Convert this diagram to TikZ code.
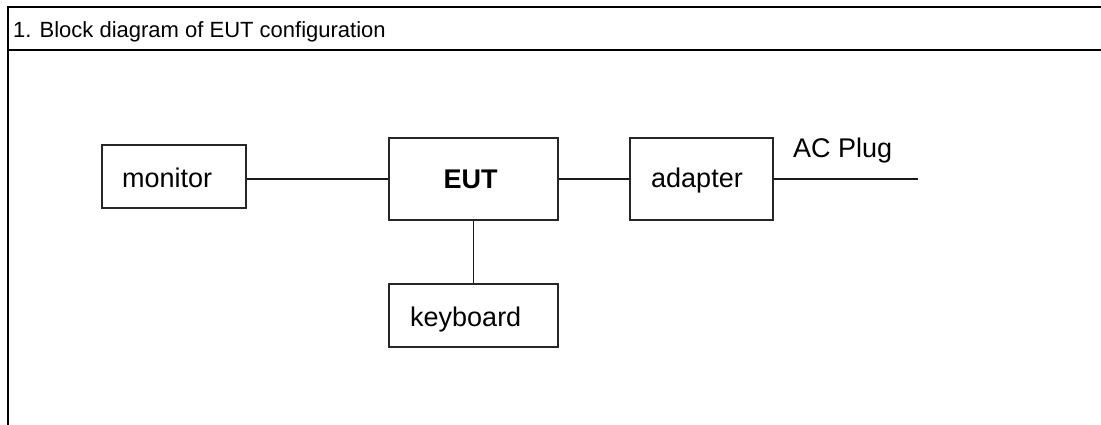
\documentclass[tikz,border=0pt]{standalone}
\usepackage{fontspec}
\setmainfont{Liberation Sans}
\begin{document}
\begin{tikzpicture}[x=1pt,y=-1pt,
  box/.style={draw=black!85, line width=1.4pt, rectangle, inner sep=0pt},
  lbl/.style={inner sep=0pt, font=\fontsize{27}{30}\selectfont},
  wire/.style={draw=black!90, line width=1.4pt},
  frameline/.style={draw=black, line width=2.4pt}]
\useasboundingbox (0,0) rectangle (1101,424);
% frame
\draw[frameline] (1101,7) -- (8,7) -- (8,430);
\draw[frameline] (8,50) -- (1101,50);
\node[inner sep=0pt, anchor=base west, font=\fontsize{22}{26}\selectfont] (hdr) at (13,37) {1. Block diagram of EUT configuration};
% boxes
\node[box, minimum width=144pt, minimum height=63pt] (monitor) at (174,176.5) {};
\node[box, minimum width=169pt, minimum height=82pt] (eut) at (473.5,179) {};
\node[box, minimum width=143pt, minimum height=82pt] (adapter) at (701.5,179) {};
\node[box, minimum width=169pt, minimum height=63pt] (keyboard) at (473.5,315.5) {};
% labels
\node[lbl, anchor=base west] (tmon) at (122,187) {monitor};
\node[lbl, anchor=base, font=\fontsize{27}{30}\selectfont\bfseries] (teut) at (470.5,188) {EUT};
\node[lbl, anchor=base west] (tad) at (651,187) {adapter};
\node[lbl, anchor=base west] (tkb) at (410,326) {keyboard};
\node[lbl, anchor=base west] (tac) at (793,157) {AC Plug};
% connectors
\coordinate (plug) at (918,179);
\draw[wire] (eut.west) -- (eut.west -| monitor.east);
\draw[wire] (eut.east) -- (adapter.west);
\draw[wire] (adapter.east) -- (plug);
\draw[wire] (eut.south) -- (keyboard.north);
\end{tikzpicture}
\end{document}
